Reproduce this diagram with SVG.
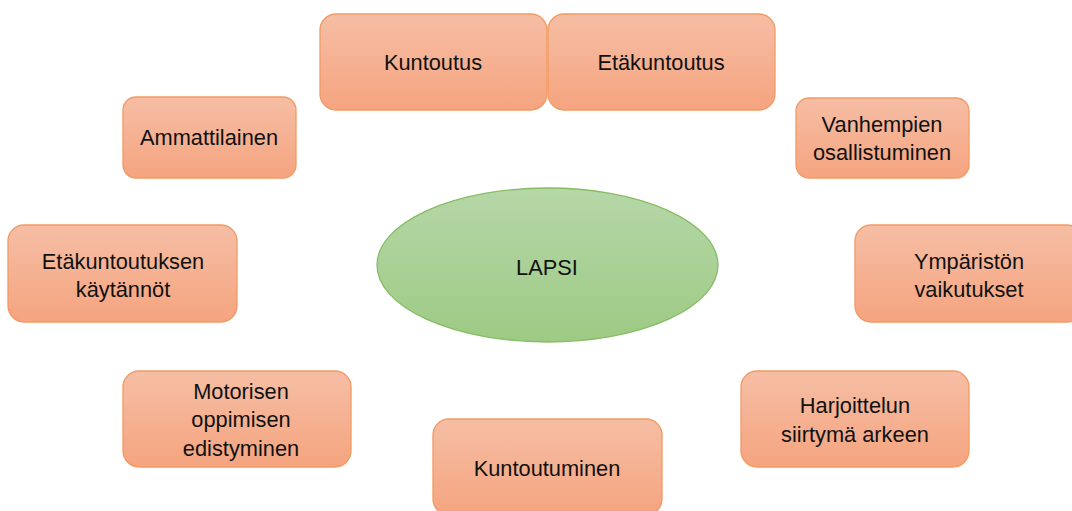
<svg xmlns="http://www.w3.org/2000/svg" width="1072" height="511" viewBox="0 0 1072 511">
<defs>
<linearGradient id="og" x1="0" y1="0" x2="0" y2="1">
<stop offset="0" stop-color="#f6bea5"/>
<stop offset="1" stop-color="#f5a47f"/>
</linearGradient>
<linearGradient id="gg" x1="0" y1="0" x2="0" y2="1">
<stop offset="0" stop-color="#b6d7a8"/>
<stop offset="1" stop-color="#9dca84"/>
</linearGradient>
<style>
.box{fill:url(#og);stroke:#f29a63;stroke-width:1.3}
.ell{fill:url(#gg);stroke:#86bd64;stroke-width:1.3}
text{font-family:"Liberation Sans",Arial,sans-serif;font-size:21.8px;fill:#111;text-anchor:middle}
</style>
</defs>
<rect width="1072" height="511" fill="#fff"/>
<g id="connectors"/>
<g id="lapsi"><ellipse class="ell" cx="547.5" cy="265" rx="170.5" ry="77"/><text x="547" y="275">LAPSI</text></g>
<g id="kuntoutus"><rect class="box" x="320" y="14" width="227" height="96" rx="16"/><text x="433" y="70">Kuntoutus</text></g>
<g id="etakuntoutus"><rect class="box" x="548" y="14" width="227" height="96" rx="16"/><text x="661" y="70">Etäkuntoutus</text></g>
<g id="ammattilainen"><rect class="box" x="123" y="97" width="173" height="81" rx="13"/><text x="209" y="145">Ammattilainen</text></g>
<g id="vanhempien"><rect class="box" x="796" y="98" width="173" height="80" rx="13"/><text x="882" y="132">Vanhempien</text><text x="882" y="160">osallistuminen</text></g>
<g id="kaytannot"><rect class="box" x="8" y="225" width="229" height="97" rx="16"/><text x="123" y="269">Etäkuntoutuksen</text><text x="123" y="297">käytännöt</text></g>
<g id="ymparisto"><rect class="box" x="855" y="225" width="228" height="97" rx="16"/><text x="969" y="269">Ympäristön</text><text x="969" y="297">vaikutukset</text></g>
<g id="motorisen"><rect class="box" x="123" y="371" width="228" height="96" rx="16"/><text x="241" y="399">Motorisen</text><text x="241" y="427">oppimisen</text><text x="241" y="456">edistyminen</text></g>
<g id="harjoittelun"><rect class="box" x="741" y="371" width="228" height="96" rx="16"/><text x="855" y="413">Harjoittelun</text><text x="855" y="442">siirtymä arkeen</text></g>
<g id="kuntoutuminen"><rect class="box" x="433" y="419" width="229" height="96" rx="16"/><text x="547" y="476">Kuntoutuminen</text></g>
</svg>
